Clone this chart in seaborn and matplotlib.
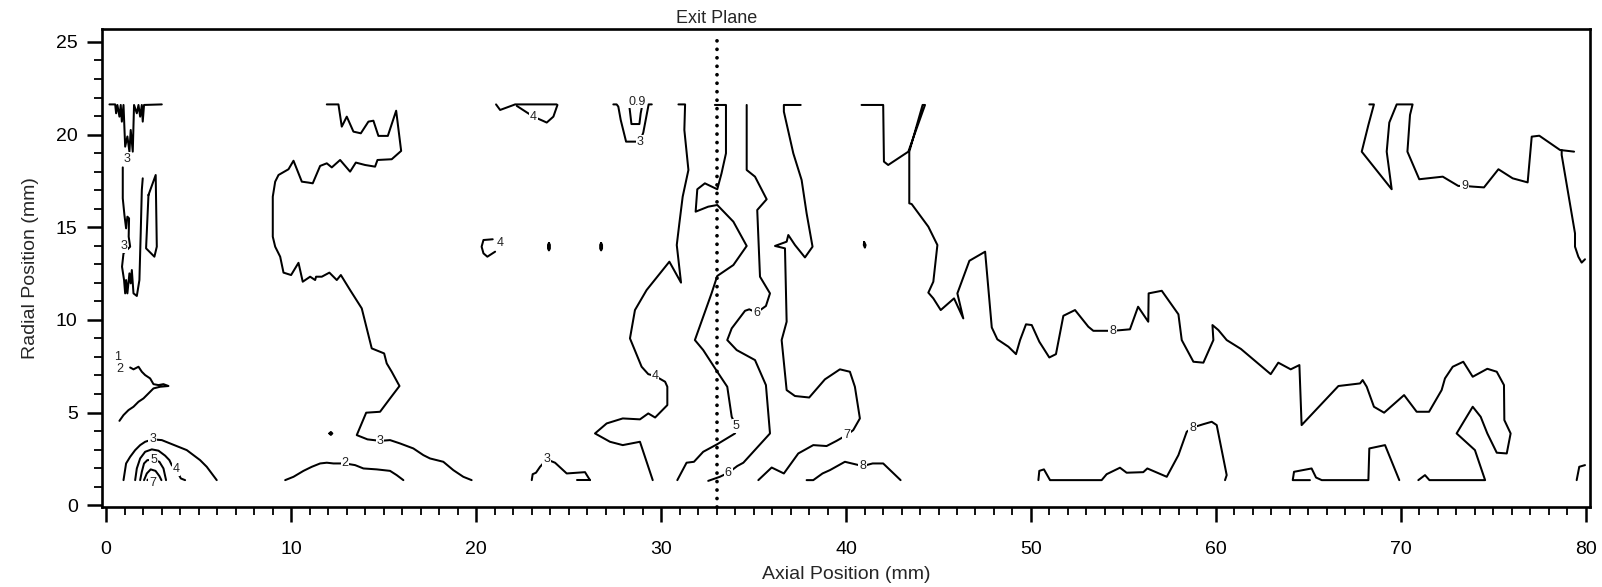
import matplotlib
matplotlib.use("Agg")
import matplotlib.pyplot as plt
import seaborn as sns
from matplotlib.ticker import MultipleLocator

# ---------------- data: contour lines (axial mm, radial mm) ----------------
c3_topleft = [(0.18, 21.63), (0.49, 21.63), (0.54, 21.15), (0.61, 21.6), (0.72, 20.97), (0.79, 21.6),
              (0.85, 20.7), (0.94, 21.6), (1.03, 19.35), (1.15, 19.9), (1.26, 19.08), (1.33, 20.25),
              (1.44, 19.08), (1.51, 21.6), (1.66, 21.15), (1.75, 21.6), (1.84, 20.97), (1.93, 21.6),
              (1.98, 20.7), (2.05, 21.6), (3.01, 21.63)]
c3_upper = [(0.90, 18.23), (0.90, 16.56), (0.99, 15.66), (1.08, 14.94), (1.15, 15.57), (1.24, 15.48),
            (1.22, 14.49), (1.30, 13.95), (0.94, 13.59), (0.86, 12.87), (0.97, 12.15), (1.03, 11.43),
            (1.08, 12.15), (1.15, 11.43), (1.26, 12.51), (1.33, 11.97), (1.39, 12.69), (1.48, 11.43),
            (1.66, 11.29), (1.80, 12.15), (1.87, 14.67), (1.93, 17.01), (1.98, 17.64)]
c3_upper_loop = [(2.29, 16.74), (2.68, 17.82), (2.74, 13.95), (2.61, 13.41), (2.16, 13.86), (2.29, 16.74)]
c2_left = [(1.30, 7.43), (1.48, 7.33), (1.75, 7.47), (1.93, 7.20), (2.11, 7.02), (2.38, 6.84), (2.56, 6.53),
           (2.83, 6.48), (3.10, 6.53), (3.37, 6.43), (2.92, 6.39), (2.56, 6.30), (2.29, 6.03), (2.02, 5.76),
           (1.75, 5.58), (1.48, 5.31), (1.21, 5.13), (0.94, 4.86), (0.72, 4.55)]
c3_arc = [(0.94, 1.35), (1.08, 2.25), (1.30, 2.61), (1.57, 2.97), (1.84, 3.24), (2.11, 3.42), (2.52, 3.55),
          (3.01, 3.51), (3.46, 3.33), (3.91, 3.15), (4.36, 2.97), (4.72, 2.70), (5.08, 2.43), (5.44, 2.07),
          (5.71, 1.71), (5.98, 1.35)]
c4_arc = [(1.57, 1.35), (1.66, 1.98), (1.84, 2.52), (2.11, 2.88), (2.47, 3.01), (2.83, 2.94), (3.19, 2.67),
          (3.42, 2.43), (3.55, 2.16), (3.78, 1.93), (4.04, 1.44), (4.27, 1.35)]
c5_arc = [(1.84, 1.35), (1.93, 1.80), (2.05, 2.25), (2.23, 2.43), (2.56, 2.43), (2.88, 2.34), (3.10, 1.98),
          (3.24, 1.35)]
c6_arc = [(2.05, 1.35), (2.20, 1.71), (2.41, 1.93), (2.67, 1.85), (2.88, 1.57), (2.99, 1.35)]
c7_arc = [(2.23, 1.35), (2.34, 1.44), (2.52, 1.30), (2.70, 1.35)]
c3_big = [(11.93, 21.63), (12.56, 21.63), (12.74, 20.43), (13.01, 20.97), (13.37, 20.16), (13.77, 20.07),
          (14.18, 20.70), (14.45, 20.75), (14.72, 19.93), (15.23, 19.93), (15.68, 21.29), (15.95, 19.12),
          (15.44, 18.67), (14.67, 18.63), (14.54, 18.27), (14.00, 18.36), (13.50, 18.49), (13.19, 18.00),
          (12.65, 18.63), (12.20, 18.23), (11.93, 18.45), (11.57, 18.31), (11.17, 17.37), (10.94, 17.41),
          (10.58, 17.46), (10.13, 18.59), (9.86, 18.13), (9.32, 17.82), (9.14, 17.46), (9.01, 16.65),
          (9.01, 14.49), (9.14, 13.95), (9.41, 13.41), (9.59, 12.55), (10.00, 12.42), (10.40, 13.08),
          (10.63, 12.06), (11.03, 12.33), (11.30, 12.15), (11.35, 12.33), (11.66, 12.33), (12.07, 12.55),
          (12.47, 12.15), (12.69, 12.42), (13.19, 11.61), (13.82, 10.62), (14.36, 8.46), (15.03, 8.19),
          (15.17, 7.65), (15.44, 7.20), (15.86, 6.43), (15.35, 5.76), (14.81, 5.04), (14.06, 4.99),
          (13.55, 3.78), (14.13, 3.55), (14.81, 3.47), (15.35, 3.51), (15.89, 3.33), (16.61, 3.06),
          (17.15, 2.70), (17.51, 2.52), (18.23, 2.34), (18.77, 1.89), (19.31, 1.53), (19.76, 1.35)]
c3_dot = [(12.07, 3.87), (12.15, 3.95), (12.23, 3.87), (12.15, 3.79), (12.07, 3.87)]
c2_bottom = [(9.68, 1.35), (10.13, 1.53), (10.67, 1.85), (11.12, 2.07), (11.57, 2.25), (11.93, 2.29),
             (12.29, 2.25), (12.92, 2.25), (13.46, 2.16), (13.91, 1.98), (14.63, 1.93), (15.35, 1.85),
             (15.71, 1.62), (16.07, 1.35)]
c4_top = [(21.08, 21.63), (21.30, 21.33), (21.98, 21.58), (22.11, 21.63), (24.36, 21.63)]
c4_top_b = [(22.20, 21.55), (22.74, 21.20), (23.10, 20.97), (23.60, 20.75), (23.82, 20.65), (24.18, 20.97),
            (24.40, 21.60)]
c3_notch = [(27.42, 21.63), (27.60, 21.63), (27.69, 21.51), (27.82, 20.79), (28.11, 19.62), (28.41, 19.62),
            (28.86, 19.62), (29.04, 20.11), (29.33, 21.63), (29.50, 21.63)]
c09_notch = [(28.29, 21.51), (28.40, 20.57), (28.83, 20.57), (28.90, 21.15), (28.97, 21.51)]
c4_ring = [(20.90, 14.35), (20.40, 14.31), (20.30, 13.95), (20.40, 13.59), (20.61, 13.41), (21.03, 13.68)]
c4_oval_a = [(23.94, 14.15), (23.99, 14.05), (23.99, 13.85), (23.94, 13.75), (23.89, 13.85), (23.89, 14.05),
             (23.94, 14.15)]
c4_oval_b = [(26.76, 14.15), (26.81, 14.05), (26.81, 13.85), (26.76, 13.75), (26.71, 13.85), (26.71, 14.05),
             (26.76, 14.15)]
c4_main = [(30.94, 21.63), (31.30, 21.63), (31.26, 20.25), (31.48, 18.09), (31.17, 16.65), (30.99, 15.21),
           (30.85, 14.04), (31.08, 12.01), (30.45, 13.14), (29.22, 11.61), (28.59, 10.53), (28.32, 9.00),
           (28.95, 7.47), (29.31, 7.07), (29.68, 6.97), (30.22, 6.66), (30.34, 6.39), (30.34, 5.40),
           (29.68, 4.73), (29.31, 4.95), (28.86, 4.63), (27.93, 4.68), (27.06, 4.41), (26.43, 3.87),
           (27.24, 3.42), (27.93, 3.24), (28.86, 3.42), (29.55, 1.35)]
c3_bottom = [(23.01, 1.35), (23.06, 1.67), (23.24, 1.75), (23.46, 2.07), (23.82, 2.47), (24.27, 2.29),
             (24.90, 1.71), (25.89, 1.78), (26.07, 1.49), (26.16, 1.35)]
c3_bottom_b = [(25.44, 1.35), (26.16, 1.35)]
c5_main = [(32.91, 21.60), (33.51, 21.60), (33.51, 18.99), (33.27, 17.91), (33.04, 17.05), (32.37, 17.37),
           (31.96, 17.05), (31.87, 15.84), (32.55, 16.11), (33.04, 16.20), (33.91, 15.30), (34.63, 13.99),
           (33.91, 12.96), (33.04, 12.37), (32.73, 11.43), (31.83, 8.91), (32.28, 8.37), (33.04, 7.20),
           (33.58, 6.39), (33.82, 4.77), (34.05, 4.27), (34.00, 3.87), (33.04, 3.29), (32.28, 2.88),
           (31.78, 2.34), (31.38, 2.29), (30.88, 1.35)]
c6_main = [(34.63, 21.60), (34.63, 18.09), (35.08, 17.73), (35.71, 16.51), (35.20, 15.93), (35.35, 12.33),
           (35.89, 11.43), (35.67, 10.75), (35.17, 10.39), (34.77, 10.57), (34.54, 10.49), (33.82, 9.54),
           (33.58, 8.91), (34.09, 8.37), (35.08, 7.83), (35.67, 6.48), (35.89, 3.87), (34.45, 2.29),
           (34.12, 2.11), (33.64, 1.75), (33.18, 1.53), (32.55, 1.31)]
c7_main = [(37.55, 21.60), (36.64, 21.60), (36.64, 21.24), (37.15, 18.99), (37.60, 17.55), (37.87, 15.75),
           (38.19, 13.95), (37.78, 13.37), (37.24, 14.04), (36.88, 14.58), (36.79, 14.22), (36.16, 13.99),
           (36.70, 13.86), (36.79, 9.90), (36.52, 8.91), (36.79, 6.21), (37.24, 5.89), (38.01, 5.81),
           (38.86, 6.79), (39.67, 7.33), (40.21, 7.20), (40.48, 6.39), (40.75, 4.68), (40.39, 4.05),
           (40.03, 3.78), (39.49, 3.47), (38.95, 3.19), (38.23, 3.24), (37.42, 2.79), (36.64, 1.71),
           (35.98, 2.03), (35.26, 1.35)]
c8_bottom_a = [(37.87, 1.35), (38.23, 1.35), (38.73, 1.71), (39.13, 1.89), (39.94, 2.34), (40.90, 2.11),
               (41.44, 2.25), (42.01, 2.25), (42.95, 1.35)]
c8_main = [(40.84, 21.60), (42.01, 21.60), (42.05, 18.54), (42.28, 18.36), (43.37, 19.08), (44.27, 21.60),
           (44.14, 21.60), (43.42, 19.08), (43.42, 16.29), (43.55, 16.25), (44.45, 15.03), (44.94, 14.04),
           (44.72, 12.06), (44.45, 11.47), (44.72, 11.16), (45.12, 10.53), (45.84, 11.16), (46.34, 10.08),
           (46.02, 11.43), (46.67, 13.19), (47.52, 13.68), (47.88, 9.59), (48.18, 8.95), (48.78, 8.55),
           (49.19, 8.15), (49.41, 8.91), (49.73, 9.76), (50.04, 9.72), (50.45, 8.82), (50.99, 7.97),
           (51.35, 8.15), (51.75, 10.22), (52.38, 10.53), (53.10, 9.63), (53.37, 9.41), (53.95, 9.41),
           (54.42, 9.41), (54.90, 9.45), (55.35, 9.49), (55.79, 10.71), (56.34, 9.90), (56.36, 11.43),
           (57.07, 11.57), (57.97, 10.30), (58.15, 8.91), (58.78, 7.74), (59.32, 7.69), (59.86, 8.91),
           (59.81, 9.72), (60.13, 9.45), (60.58, 8.91), (61.35, 8.43), (62.96, 7.07), (63.37, 7.69),
           (64.04, 7.33), (64.51, 7.56), (64.63, 4.32), (66.62, 6.43), (67.79, 6.57), (67.93, 6.75),
           (68.15, 6.39), (68.54, 5.31), (69.09, 4.99), (70.17, 5.94), (70.85, 5.04), (71.52, 5.04),
           (72.20, 6.21), (72.38, 6.84), (72.80, 7.47), (73.37, 7.74), (73.88, 6.93), (74.67, 7.36),
           (75.18, 7.20), (75.57, 6.48), (75.59, 4.59), (75.93, 3.87), (75.72, 2.79), (75.18, 2.83),
           (74.67, 3.87), (74.31, 4.77), (73.88, 5.31), (73.01, 3.87), (74.00, 2.97), (74.55, 1.35),
           (71.54, 1.35), (71.30, 1.62), (70.94, 1.35)]
c8_dot = [(40.98, 14.20), (41.06, 14.04), (41.02, 13.90), (40.96, 14.04), (40.98, 14.20)]
c8_bottom_b = [(50.40, 1.35), (50.45, 1.85), (50.70, 1.93), (51.03, 1.35), (53.82, 1.35), (54.09, 1.67),
               (54.81, 2.02), (55.17, 1.75), (56.07, 1.78), (56.29, 1.98), (57.34, 1.53), (57.97, 2.70),
               (58.42, 3.96), (58.74, 4.19), (59.32, 4.37), (59.77, 4.50), (60.04, 4.32), (60.58, 1.62),
               (60.49, 1.35)]
c8_bottom_c = [(65.08, 1.35), (64.15, 1.35), (64.22, 1.80), (65.17, 1.98), (65.41, 1.49), (65.72, 1.35),
               (68.24, 1.35), (68.29, 3.06), (69.14, 3.24), (69.91, 1.35)]
c8_right_edge = [(79.50, 1.35), (79.64, 2.07), (79.95, 2.16)]
c9_main = [(68.29, 21.63), (68.54, 21.63), (68.24, 20.52), (67.88, 19.08), (69.50, 17.05), (69.23, 19.08),
           (69.37, 20.65), (69.77, 21.63), (70.63, 21.63), (70.49, 21.06), (70.35, 19.08), (70.99, 17.59),
           (72.26, 17.73), (73.10, 17.23), (73.43, 17.23), (73.91, 17.19), (74.49, 17.15), (75.27, 18.13),
           (76.04, 17.64), (76.85, 17.42), (77.07, 19.89), (77.48, 19.94), (78.60, 19.17), (79.36, 19.08)]
c9_edge = [(78.69, 19.17), (78.69, 18.90), (79.41, 14.67), (79.41, 13.95), (79.59, 13.41), (79.77, 13.09),
           (79.95, 13.27)]

contour_lines = [c3_topleft, c3_upper, c3_upper_loop, c2_left, c3_arc, c4_arc, c5_arc, c6_arc, c7_arc,
                 c3_big, c3_dot, c2_bottom, c4_top, c4_top_b, c3_notch, c09_notch, c4_ring, c4_oval_a,
                 c4_oval_b, c4_main, c3_bottom, c3_bottom_b, c5_main, c6_main, c7_main, c8_bottom_a,
                 c8_main, c8_dot, c8_bottom_b, c8_bottom_c, c8_right_edge, c9_main, c9_edge]

label_text = ["3", "3", "1", "2", "3", "5", "4", "7", "3", "2", "4", "0.9", "3", "4", "4", "3",
              "5", "6", "6", "7", "8", "8", "8", "9"]
label_x = [1.12, 0.94, 0.61, 0.76, 2.52, 2.56, 3.78, 2.52, 14.81, 12.92, 23.10, 28.72, 28.86, 21.30,
           29.68, 23.82, 34.05, 35.17, 33.64, 40.03, 40.90, 54.42, 58.74, 73.43]
label_y = [18.68, 14.00, 8.01, 7.33, 3.55, 2.43, 1.93, 1.21, 3.47, 2.25, 20.97, 21.78, 19.62, 14.13,
           6.97, 2.47, 4.27, 10.39, 1.75, 3.78, 2.11, 9.41, 4.19, 17.23]

exit_plane_x = 33.0
exit_plane_span = [-0.1, 25.2]

x_ticks = [0, 10, 20, 30, 40, 50, 60, 70, 80]
y_ticks = [0, 5, 10, 15, 20, 25]

# ---------------- figure ----------------
sns.set_theme(style="ticks")
plt.rcParams["font.family"] = ["Liberation Sans", "DejaVu Sans"]

fig = plt.figure(figsize=(16.02, 5.87), dpi=100)
ax = fig.add_axes([0.0637, 0.1363, 0.9288, 0.8143])

for pts in contour_lines:
    xs = [p[0] for p in pts]
    ys = [p[1] for p in pts]
    sns.lineplot(x=xs, y=ys, sort=False, estimator=None, color="black", linewidth=1.45, ax=ax)

for t, x, y in zip(label_text, label_x, label_y):
    ax.text(x, y, t, fontsize=9, ha="center", va="center", color="#222222", zorder=5,
            bbox=dict(facecolor="white", edgecolor="none", pad=0.6))

ax.plot([exit_plane_x, exit_plane_x], exit_plane_span, color="black", linewidth=2.7,
        linestyle=(0, (0.01, 2.25)), dash_capstyle="round", zorder=6, clip_on=False)
ax.annotate("Exit Plane", xy=(exit_plane_x, 1), xycoords=("data", "axes fraction"),
            xytext=(0, 1.5), textcoords="offset points", ha="center", va="bottom", fontsize=13)

ax.set_xlim(-0.22, 80.22)
ax.set_ylim(-0.1, 25.7)
ax.set_xticks(x_ticks)
ax.set_yticks(y_ticks)
ax.xaxis.set_minor_locator(MultipleLocator(1))
ax.yaxis.set_minor_locator(MultipleLocator(1))
ax.tick_params(axis="both", which="major", direction="out", length=10.5, width=1.8, labelsize=14,
               colors="black")
ax.tick_params(axis="both", which="minor", direction="out", length=5.5, width=1.3, colors="black")
ax.tick_params(axis="x", which="major", pad=14)
ax.tick_params(axis="y", which="major", pad=7)

for s in ax.spines.values():
    s.set_visible(True)
    s.set_linewidth(1.9)
    s.set_color("black")

ax.set_xlabel("Axial Position (mm)", fontsize=14, labelpad=6)
ax.set_ylabel("Radial Position (mm)", fontsize=14, labelpad=12)
ax.grid(False)

fig.savefig("out.png", dpi=100, facecolor="white")
